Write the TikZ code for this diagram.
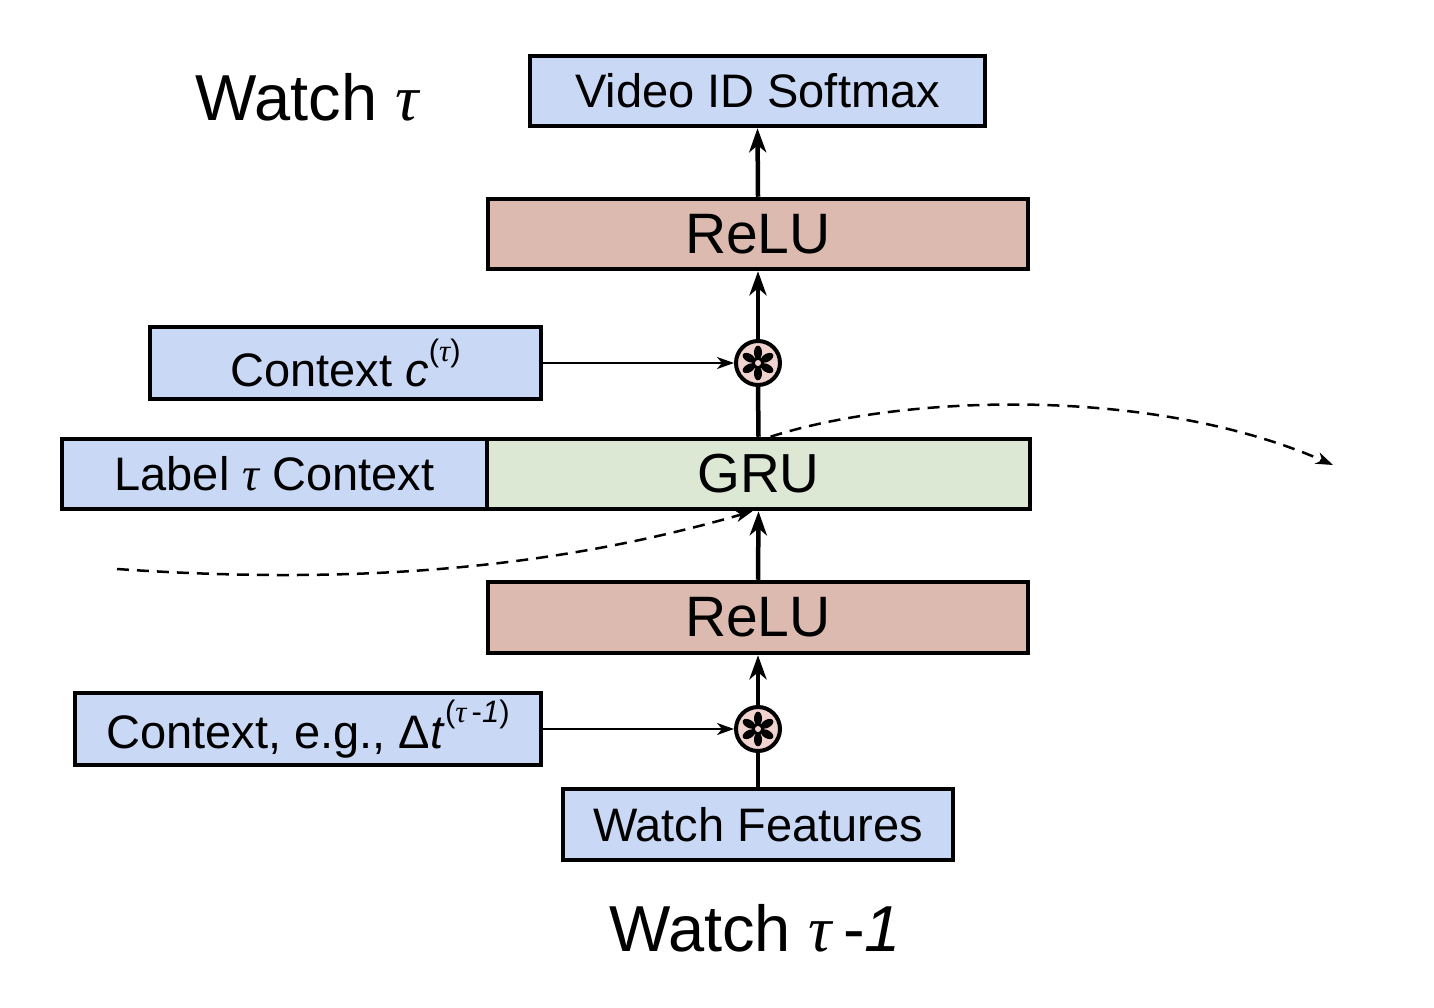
\documentclass[tikz,border=0pt]{standalone}
\usepackage{fontspec}
\setmainfont{Liberation Sans}
\newfontfamily\greekfont{Liberation Serif}
\usetikzlibrary{arrows.meta}
\definecolor{boxblue}{HTML}{C9D8F5}
\definecolor{relured}{HTML}{DDBAAF}
\definecolor{grugreen}{HTML}{DCE8D4}
\definecolor{multpink}{HTML}{F0D2CE}
\newcommand{\tauletter}{{\greekfont\itshape τ}}
\newcommand{\upidx}[1]{\raisebox{0.55em}{\fontsize{31}{31}\selectfont #1}}
\begin{document}
\begin{tikzpicture}[x=1pt,y=-1pt,
  layer/.style={draw,line width=4.5pt,inner sep=0pt,fill=boxblue,
    font=\fontsize{47}{52}\selectfont},
  relu/.style={layer,fill=relured,font=\fontsize{57}{62}\selectfont},
  mult/.style={circle,draw,line width=4pt,fill=multpink,minimum size=44pt,inner sep=0pt},
  flow/.style={line width=4.5pt,-{Stealth[length=24pt,width=17pt,inset=7pt]}},
  feed/.style={line width=2pt,-{Stealth[length=17pt,width=12pt,inset=5pt]}},
  carry/.style={line width=2.5pt,dash pattern=on 12pt off 8pt,
    -{Stealth[length=17pt,width=12pt,inset=5pt]}},
  title/.style={font=\fontsize{65}{70}\selectfont}]
\useasboundingbox (0,0) rectangle (1434,1008);
% layers
\node[layer,minimum width=455,minimum height=70] (softmax) at (757.5,91) {Video ID Softmax};
\node[relu,minimum width=540,minimum height=70] (relutop) at (758,234) {ReLU};
\node[layer,minimum width=391,minimum height=72] (ctxtop) at (345.5,363) {Context \textit{c}\upidx{(\tauletter)}};
\node[layer,minimum width=425,minimum height=70] (label) at (274.5,474) {Label \tauletter\ Context};
\node[layer,fill=grugreen,font=\fontsize{55}{60}\selectfont,minimum width=543,minimum height=70] (gru) at (758.5,474) {GRU};
\node[relu,minimum width=540,minimum height=71] (relubot) at (758,617.5) {ReLU};
\node[layer,minimum width=466,minimum height=72] (ctxbot) at (308,729) {Context, e.g., Δ\textit{t}\upidx{(\tauletter\,-\textit{1})}};
\node[layer,minimum width=390,minimum height=71] (feat) at (758,824.5) {Watch Features};
\node[mult] (multtop) at (758,363) {};
\node[mult] (multbot) at (758,729) {};
\foreach \m in {multtop,multbot}{
  \foreach \a in {30,90,...,330}
    \fill[shift={(\m.center)},rotate=\a] (10.5,0) ellipse [x radius=6.8, y radius=4];
  \fill (\m.center) circle (6);
  \fill[multpink] (\m.center) circle (3);
}
% titles
\node[title] (watchnow) at (307,97) {Watch \tauletter};
\node[title] (watchprev) at (755,928) {Watch \tauletter\,-\textit{1}};
% connectors
\draw[line width=4.5pt] (feat.north) -- (multbot.south);
\draw[flow] (multbot.north) -- (relubot.south);
\draw[flow] (relubot.north) -- (gru.south);
\draw[line width=4.5pt] (gru.north) -- (multtop.south);
\draw[flow] (multtop.north) -- (relutop.south);
\draw[flow] (relutop.north) -- (softmax.south);
\draw[feed] (ctxtop.east) -- (multtop.west);
\draw[feed] (ctxbot.east) -- (multbot.west);
% recurrent state
\coordinate (prevstate) at (117,569);
\coordinate (nextstate) at (1333,465);
\draw[carry] (prevstate) .. controls (350,585) and (550,570) .. ([xshift=-6pt]gru.south);
\draw[carry] ([xshift=12pt]gru.north) .. controls (900,395) and (1150,385) .. (nextstate);
\end{tikzpicture}
\end{document}
